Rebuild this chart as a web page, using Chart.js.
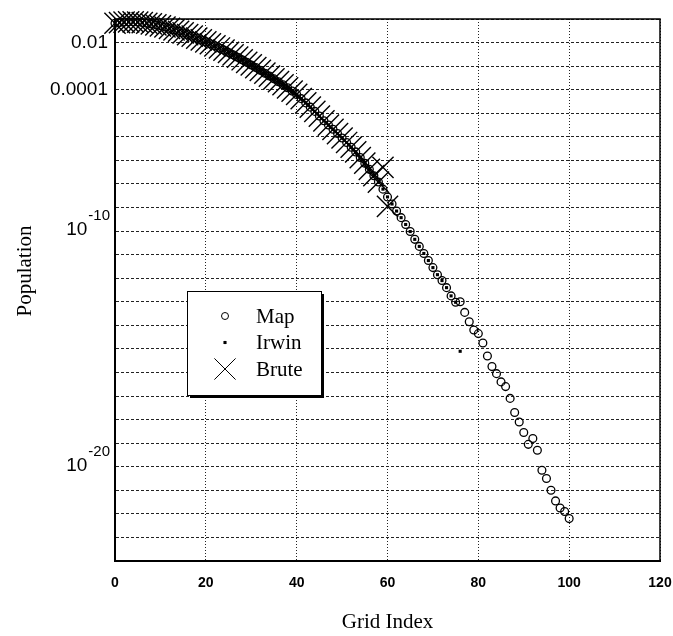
<!DOCTYPE html>
<html>
<head>
<meta charset="utf-8">
<script src="https://cdn.jsdelivr.net/npm/chart.js@4.4.0/dist/chart.umd.min.js"></script>
<style>
  html, body { margin: 0; padding: 0; background: #fff; }
  #wrap { position: relative; width: 673px; height: 636px; }
</style>
</head>
<body>
<div id="wrap"><canvas id="popChart"></canvas></div>
<script>
// grid index of every Map point
const mapX = [
  0, 1, 2, 3, 4, 5, 6, 7, 8, 9, 10, 11, 12, 13, 14, 15, 16, 17, 18, 19,
  20, 21, 22, 23, 24, 25, 26, 27, 28, 29, 30, 31, 32, 33, 34, 35, 36, 37, 38, 39,
  40, 41, 42, 43, 44, 45, 46, 47, 48, 49, 50, 51, 52, 53, 54, 55, 56, 57, 58, 59,
  60, 61, 62, 63, 64, 65, 66, 67, 68, 69, 70, 71, 72, 73, 74, 75, 76, 77, 78, 79,
  80, 81, 82, 83, 84, 85, 86, 87, 88, 89, 90, 91, 92, 93, 94, 95, 96, 97, 98, 99, 100
];
// population, as powers of ten
const mapExp = [
  -1.18, -1.15, -1.13, -1.12, -1.12, -1.13, -1.15, -1.18, -1.21, -1.25,
  -1.29, -1.34, -1.40, -1.46, -1.52, -1.59, -1.66, -1.73, -1.81, -1.89,
  -1.97, -2.05, -2.14, -2.23, -2.32, -2.42, -2.52, -2.62, -2.73, -2.84,
  -2.95, -3.06, -3.18, -3.30, -3.42, -3.54, -3.66, -3.79, -3.92, -4.06,
  -4.20, -4.38, -4.56, -4.74, -4.92, -5.12, -5.32, -5.50, -5.68, -5.86,
  -6.05, -6.24, -6.44, -6.64, -6.88, -7.12, -7.38, -7.65, -7.92, -8.22,
  -8.55, -8.85, -9.15, -9.43, -9.72, -10.02, -10.35, -10.65, -10.95, -11.25,
  -11.55, -11.85, -12.10, -12.40, -12.75, -13.02, -13.00, -13.45, -13.85, -14.20,
  -14.35, -14.75, -15.30, -15.75, -16.05, -16.40, -16.60, -17.10, -17.70, -18.10,
  -18.55, -19.05, -18.80, -19.30, -20.15, -20.50, -21.00, -21.45, -21.75, -21.90,
  -22.20
];
// Irwin sits on the Map curve (hidden under it) up to 75, then one stray point at 76
const irwinX = mapX.slice(0, 77);
const irwinExp = mapExp.slice(0, 76).concat([-15.1]);
// Brute follows the curve up to 58, last two crosses split off
const bruteX = mapX.slice(0, 61);
const bruteExp = mapExp.slice(0, 59).concat([-7.3, -8.95]);

const yDecades = [-24, -23, -22, -21, -20, -19, -18, -17, -16, -15, -14, -13,
  -12, -11, -10, -9, -8, -7, -6, -5, -4, -3, -2, -1];
const yLabelExp = [-2, -4];
const yLabelText = ['0.01', '0.0001'];
// labels written as 10 with a raised exponent
const yPowerExp = [-10, -20];

const toPoints = (xs, es) => xs.map((x, i) => ({ x: x, y: Math.pow(10, es[i]) }));

const serif = "'Liberation Serif', 'Times New Roman', serif";
const sans = "'Liberation Sans', Arial, sans-serif";

// frame on top/right, y title, power-of-ten labels
const framePlugin = {
  id: 'frame',
  beforeDatasetsDraw(chart) {
    const { ctx, chartArea: a } = chart;
    ctx.save();
    ctx.strokeStyle = '#000';
    ctx.lineWidth = 1.5;
    ctx.beginPath();
    ctx.moveTo(a.left, a.top);
    ctx.lineTo(a.right, a.top);
    ctx.lineTo(a.right, a.bottom);
    ctx.stroke();
    ctx.restore();
  },
  afterDraw(chart) {
    const ctx = chart.ctx;
    const ys = chart.scales.y;
    ctx.save();
    ctx.fillStyle = '#000';
    ctx.font = '21px ' + serif;
    ctx.textAlign = 'center';
    ctx.textBaseline = 'middle';
    ctx.translate(25, 271);
    ctx.rotate(-Math.PI / 2);
    ctx.fillText('Population', 0, 0);
    ctx.restore();

    ctx.save();
    ctx.fillStyle = '#000';
    ctx.textBaseline = 'middle';
    ctx.textAlign = 'right';
    const right = ys.right - 5;
    yPowerExp.forEach(e => {
      const py = ys.getPixelForValue(Math.pow(10, e));
      const sup = String(e);
      ctx.font = '15px ' + sans;
      const w = ctx.measureText(sup).width;
      ctx.fillText(sup, right, py - 15);
      ctx.font = '19px ' + sans;
      ctx.fillText('10', right - w - 1, py - 1);
    });
    ctx.restore();
  }
};

// boxed legend with drop shadow, inside the plot
const legendPlugin = {
  id: 'boxLegend',
  afterDraw(chart) {
    const ctx = chart.ctx;
    const bx = 187, by = 291, bw = 134, bh = 104;
    ctx.save();
    ctx.fillStyle = '#000';
    ctx.fillRect(bx + 3, by + 3, bw, bh);
    ctx.fillStyle = '#fff';
    ctx.fillRect(bx, by, bw, bh);
    ctx.strokeStyle = '#000';
    ctx.lineWidth = 1;
    ctx.strokeRect(bx + 0.5, by + 0.5, bw, bh);
    ctx.font = '21px ' + serif;
    ctx.textBaseline = 'middle';
    chart.data.datasets.forEach((ds, i) => {
      const y = by + 25 + i * 26.5;
      ctx.strokeStyle = '#000';
      ctx.fillStyle = ds.pointStyle === 'rect' ? '#000' : '#fff';
      Chart.helpers.drawPoint(ctx, {
        pointStyle: ds.pointStyle,
        radius: ds.legendRadius,
        borderWidth: ds.pointBorderWidth,
        rotation: 0
      }, bx + 38, y);
      ctx.fillStyle = '#000';
      ctx.fillText(ds.label, bx + 69, y + 1);
    });
    ctx.restore();
  }
};

new Chart(document.getElementById('popChart'), {
  type: 'scatter',
  data: {
    datasets: [
      {
        label: 'Map',
        data: toPoints(mapX, mapExp),
        pointStyle: 'circle',
        pointRadius: 3.9,
        pointBorderWidth: 1.3,
        pointBorderColor: '#000',
        pointBackgroundColor: 'rgba(0,0,0,0)',
        legendRadius: 3.5,
        showLine: false,
        clip: false
      },
      {
        label: 'Irwin',
        data: toPoints(irwinX, irwinExp),
        pointStyle: 'rect',
        pointRadius: 2.2,
        pointBorderWidth: 0,
        pointBackgroundColor: '#000',
        pointBorderColor: '#000',
        legendRadius: 2.2,
        showLine: false,
        clip: false
      },
      {
        label: 'Brute',
        data: toPoints(bruteX, bruteExp),
        pointStyle: 'crossRot',
        pointRadius: 15,
        pointBorderWidth: 1.4,
        pointBorderColor: '#000',
        legendRadius: 15,
        showLine: false,
        clip: false
      }
    ]
  },
  options: {
    responsive: true,
    maintainAspectRatio: false,
    animation: false,
    devicePixelRatio: 1,
    layout: { autoPadding: false, padding: { left: 0, right: 13, top: 19, bottom: 0 } },
    plugins: {
      legend: { display: false },
      tooltip: { enabled: false }
    },
    scales: {
      x: {
        type: 'linear',
        min: 0,
        max: 120,
        afterFit: (s) => { s.height = 75; s.paddingRight = 0; s.paddingLeft = 0; },
        ticks: {
          stepSize: 20,
          color: '#000',
          padding: 14,
          maxRotation: 0,
          font: { family: "'Liberation Sans Narrow', 'Arial Narrow', 'Liberation Sans', sans-serif", size: 14, weight: 'bold' }
        },
        grid: { color: '#222', lineWidth: 1, drawTicks: false },
        border: { display: true, color: '#000', width: 2, dash: [1, 2] },
        title: {
          display: true,
          text: 'Grid Index',
          color: '#000',
          font: { family: serif, size: 21 },
          padding: { top: 0, bottom: 1 }
        }
      },
      y: {
        type: 'logarithmic',
        min: 1e-24,
        max: 1e-1,
        afterFit: (s) => { s.width = 115; },
        afterBuildTicks: (s) => {
          s.ticks = yDecades.map(e => ({ value: Math.pow(10, e) }));
        },
        ticks: {
          autoSkip: false,
          color: '#000',
          padding: 7,
          font: { family: sans, size: 19 },
          callback: (v) => {
            const k = yLabelExp.indexOf(Math.round(Math.log10(v)));
            return k >= 0 ? yLabelText[k] : '';
          }
        },
        grid: { color: '#222', lineWidth: 1, drawTicks: false },
        border: { display: true, color: '#000', width: 2, dash: [3, 2] }
      }
    }
  },
  plugins: [framePlugin, legendPlugin]
});
</script>
</body>
</html>
